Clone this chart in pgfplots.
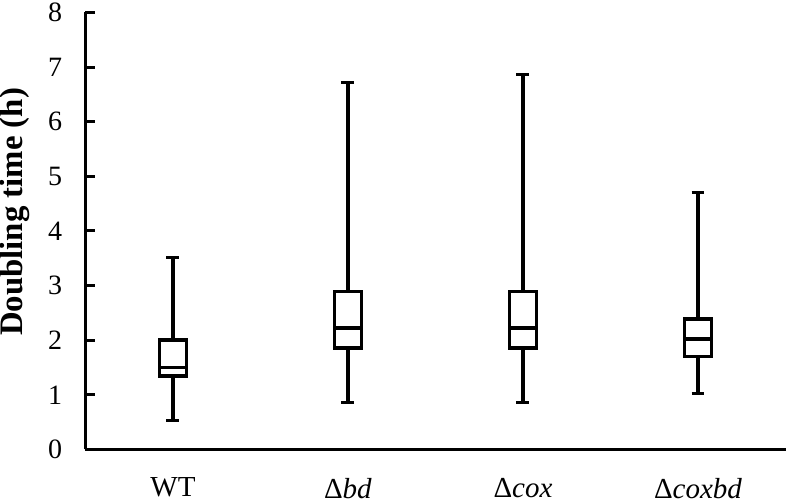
\documentclass[border=0pt]{standalone}
\usepackage{fontspec}
\setmainfont{Liberation Serif}
\usepackage{pgfplots}
\pgfplotsset{compat=1.18}
\usepgfplotslibrary{statistics}

\begin{document}
\begin{tikzpicture}
\begin{axis}[
    scale only axis,
    width=350pt, height=218.5pt,
    xmin=0.5, xmax=4.5,
    ymin=0, ymax=8,
    axis lines*=left,
    axis line style={line width=1.5pt},
    xtick={1,2,3,4},
    xticklabel style={font=\fontsize{14.5}{16}\selectfont, inner xsep=0pt, inner ysep=1.5pt, text depth=1pt, anchor=north, yshift=-12.5pt},
    xticklabels={WT, Δ\textit{bd}, Δ\textit{cox}, Δ\textit{coxbd}},
    xtick style={draw=none},
    ytick={0,1,...,8},
    tick align=inside,
    major tick length=5pt,
    ytick style={line width=1.5pt, black},
    yticklabel style={font=\fontsize{14}{16}\selectfont, inner xsep=0pt, inner ysep=1.5pt, anchor=east, xshift=-11.5pt},
    /pgf/number format/assume math mode=true,
    ylabel={\textbf{Doubling time (h)}},
    ylabel style={font=\fontsize{16.4}{18}\selectfont, inner sep=0pt,
        at={([xshift=-27.5pt, yshift=9.5pt]axis description cs:0,0.5)}, anchor=south},
    boxplot/draw direction=y,
    boxplot/every box/.style={line width=1.8pt},
    boxplot/every whisker/.style={line width=1.6pt},
    boxplot/every median/.style={line width=1.9pt},
    clip=false,
]
\addplot[black, solid, line width=1.6pt, boxplot prepared={draw position=1,
    lower whisker=0.53, lower quartile=1.35, median=1.5,
    upper quartile=2.0, upper whisker=3.52,
    box extend=0.154, whisker extend=0.074}] coordinates {};
\addplot[black, solid, line width=1.6pt, boxplot prepared={draw position=2,
    lower whisker=0.86, lower quartile=1.86, median=2.22,
    upper quartile=2.89, upper whisker=6.72,
    box extend=0.154, whisker extend=0.074}] coordinates {};
\addplot[black, solid, line width=1.6pt, boxplot prepared={draw position=3,
    lower whisker=0.86, lower quartile=1.86, median=2.22,
    upper quartile=2.89, upper whisker=6.87,
    box extend=0.154, whisker extend=0.074}] coordinates {};
\addplot[black, solid, line width=1.6pt, boxplot prepared={draw position=4,
    lower whisker=1.03, lower quartile=1.70, median=2.02,
    upper quartile=2.39, upper whisker=4.71,
    box extend=0.154, whisker extend=0.074}] coordinates {};
\end{axis}
\end{tikzpicture}
\end{document}
